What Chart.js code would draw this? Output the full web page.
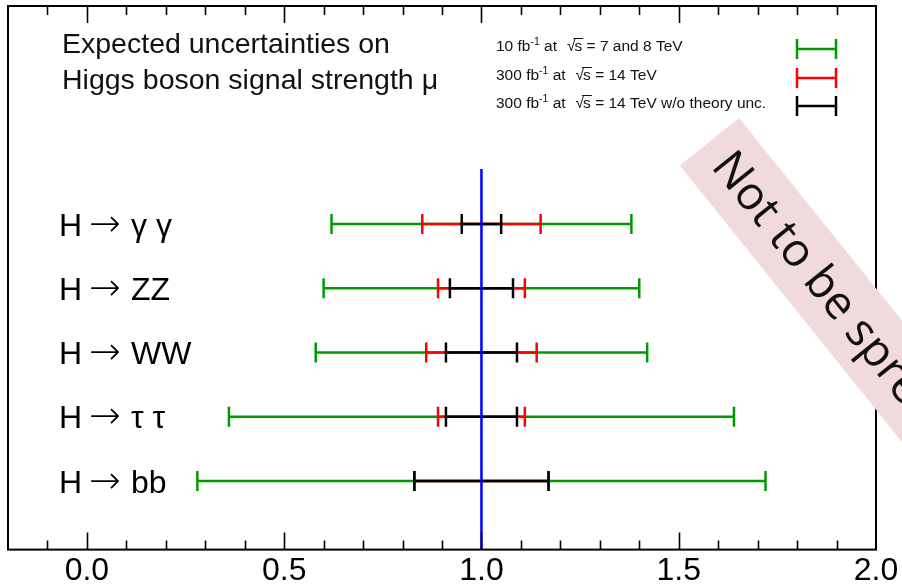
<!DOCTYPE html>
<html>
<head>
<meta charset="utf-8">
<script src="https://cdn.jsdelivr.net/npm/chart.js@4.4.1/dist/chart.umd.min.js"></script>
<style>
  html, body { margin: 0; padding: 0; background: #fff; }
  #wrap { width: 902px; height: 587px; }
</style>
</head>
<body>
<div id="wrap"><canvas id="c" width="902" height="587"></canvas></div>
<script>
// Processes, top to bottom: [particle, decay products]
const processHead = ['H', 'H', 'H', 'H', 'H'];
const processTail = ['\u03b3 \u03b3', 'ZZ', 'WW', '\u03c4 \u03c4', 'bb'];

// Signal strength and symmetric uncertainties
const muCentral = 1.0;
const err10fb = [0.38, 0.40, 0.42, 0.64, 0.72];      // 10 fb-1, 7+8 TeV
const err300fb = [0.15, 0.11, 0.14, 0.11, 0.17];     // 300 fb-1, 14 TeV
const err300fbNoTh = [0.05, 0.08, 0.09, 0.09, 0.17]; // 300 fb-1, 14 TeV w/o theory unc.

const seriesColors = ['#009a00', '#ff0000', '#000000'];
const legendPrefix = ['10 fb', '300 fb', '300 fb'];
const legendSuffix = [' = 7 and 8 TeV', ' = 14 TeV', ' = 14 TeV w/o theory unc.'];

// axis ranges
const xMin = -0.2, xMax = 2.0;
const yMin = -3.393, yMax = 5.066;   // rows sit at 0..4
const refLineTop = -0.856;           // where the mu = 1 line starts

function errorBarPoints(errs) {
    const pts = [];
    errs.forEach((e, i) => {
        pts.push({x: muCentral - e, y: i});
        pts.push({x: muCentral + e, y: i});
        pts.push({x: null, y: null});
    });
    return pts;
}

function barDataset(errs, color, order) {
    return {
        data: errorBarPoints(errs),
        showLine: true,
        borderColor: color,
        borderWidth: 2.5,
        pointStyle: 'line',
        pointRadius: 10,
        pointBorderWidth: 2.5,
        pointBorderColor: color,
        pointRotation: 90,
        order: order
    };
}

const FONT = "'Liberation Sans', Arial, sans-serif";

const decorPlugin = {
    id: 'decor',
    afterDraw(chart) {
        const ctx = chart.ctx;
        const area = chart.chartArea;
        const xs = chart.scales.x;
        const ys = chart.scales.y;
        ctx.save();

        // frame
        ctx.strokeStyle = '#000';
        ctx.lineWidth = 2;
        ctx.strokeRect(area.left, area.top, area.right - area.left, area.bottom - area.top);

        // inward ticks, top and bottom
        ctx.lineWidth = 1.6;
        xs.ticks.forEach(t => {
            const k = Math.round(t.value * 10);
            if (k <= Math.round(xMin * 10) || k >= Math.round(xMax * 10)) return;
            const len = (k % 5 === 0) ? 17 : 9;
            const px = Math.round(xs.getPixelForValue(t.value)) + 0.5;
            ctx.beginPath();
            ctx.moveTo(px, area.bottom);
            ctx.lineTo(px, area.bottom - len);
            ctx.moveTo(px, area.top);
            ctx.lineTo(px, area.top + len);
            ctx.stroke();
        });

        // title
        ctx.fillStyle = '#111';
        ctx.font = '28.5px ' + FONT;
        ctx.textBaseline = 'alphabetic';
        ctx.textAlign = 'left';
        ctx.fillText('Expected uncertainties on', 62, 53);
        ctx.fillText('Higgs boson signal strength \u03bc', 62, 89);

        // legend
        const legY = [51, 80, 108];
        legY.forEach((by, i) => {
            let x = 496;
            ctx.fillStyle = '#111';
            ctx.font = '15.5px ' + FONT;
            ctx.fillText(legendPrefix[i], x, by);
            x += ctx.measureText(legendPrefix[i]).width;
            ctx.font = '10.5px ' + FONT;
            ctx.fillText('-1', x, by - 6);
            x += ctx.measureText('-1').width;
            ctx.font = '15.5px ' + FONT;
            ctx.fillText(' at   ', x, by);
            x += ctx.measureText(' at   ').width;
            ctx.fillText('\u221a', x - 3, by);
            const sx = x + ctx.measureText('\u221a').width - 4;
            ctx.fillText('s', sx, by);
            const sw = ctx.measureText('s').width;
            ctx.lineWidth = 1;
            ctx.strokeStyle = '#111';
            ctx.beginPath();
            ctx.moveTo(sx - 1, by - 12.5);
            ctx.lineTo(sx + sw + 1, by - 12.5);
            ctx.stroke();
            ctx.fillText(legendSuffix[i], sx + sw, by);

            // legend error bar
            const ly = by - 2;
            ctx.strokeStyle = seriesColors[i];
            ctx.lineWidth = 2.5;
            ctx.beginPath();
            ctx.moveTo(797, ly); ctx.lineTo(836, ly);
            ctx.moveTo(797, ly - 10); ctx.lineTo(797, ly + 10);
            ctx.moveTo(836, ly - 10); ctx.lineTo(836, ly + 10);
            ctx.stroke();
        });

        // process labels
        ctx.fillStyle = '#000';
        processHead.forEach((h, i) => {
            const base = ys.getPixelForValue(i) + 11.5;
            ctx.font = '32px ' + FONT;
            ctx.fillText(h, 59, base);
            ctx.font = "200 38px 'DejaVu Sans', sans-serif";
            ctx.fillText('\u2192', 89, base);
            ctx.font = '32px ' + FONT;
            ctx.fillText(processTail[i], 131, base);
        });

        // watermark band
        ctx.translate(739, 118);
        ctx.rotate(51.2 * Math.PI / 180);
        ctx.fillStyle = 'rgb(240,218,220)';
        ctx.fillRect(0, 0, 600, 76);
        ctx.fillStyle = '#111';
        ctx.font = "46px 'Open Sans', sans-serif";
        ctx.textBaseline = 'middle';
        ctx.fillText('Not to be spread', 20, 40);

        ctx.restore();
    }
};

new Chart(document.getElementById('c'), {
    type: 'scatter',
    data: {
        datasets: [
            {
                data: [{x: muCentral, y: refLineTop}, {x: muCentral, y: yMax}],
                showLine: true,
                borderColor: '#0000ff',
                borderWidth: 2.5,
                pointRadius: 0,
                order: 0
            },
            barDataset(err300fbNoTh, seriesColors[2], 1),
            barDataset(err300fb, seriesColors[1], 2),
            barDataset(err10fb, seriesColors[0], 3)
        ]
    },
    options: {
        responsive: false,
        devicePixelRatio: 1,
        animation: false,
        events: [],
        layout: {
            autoPadding: false,
            padding: {left: 8, top: 6, right: 26, bottom: -5}
        },
        plugins: {
            legend: {display: false},
            tooltip: {enabled: false}
        },
        scales: {
            x: {
                type: 'linear',
                min: xMin,
                max: xMax,
                grid: {display: false, drawTicks: false},
                border: {display: false},
                ticks: {
                    stepSize: 0.1,
                    autoSkip: false,
                    maxRotation: 0,
                    padding: 2,
                    color: '#000',
                    font: {family: FONT, size: 32, lineHeight: 1.2},
                    callback: v => (Math.round(v * 10) % 5 === 0 ? v.toFixed(1) : '')
                }
            },
            y: {
                type: 'linear',
                reverse: true,
                min: yMin,
                max: yMax,
                display: false
            }
        }
    },
    plugins: [decorPlugin]
});
</script>
</body>
</html>
